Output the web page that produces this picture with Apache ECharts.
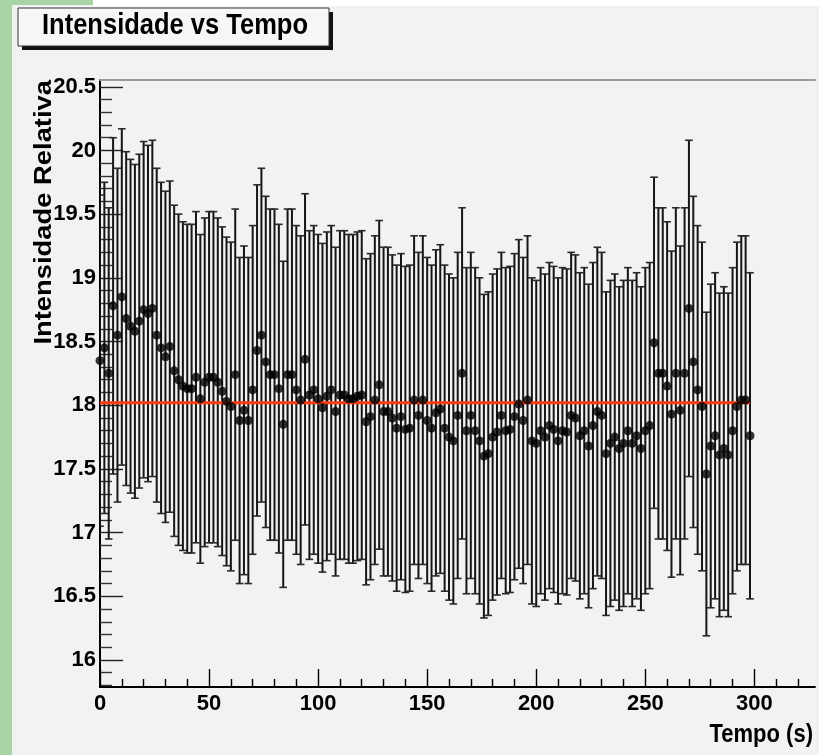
<!DOCTYPE html>
<html>
<head>
<meta charset="utf-8">
<title>Intensidade vs Tempo</title>
<script src="https://cdn.jsdelivr.net/npm/echarts@6/dist/echarts.min.js"></script>
<style>
  html, body { margin: 0; padding: 0; background: #f2f2f2; }
  #chart { width: 819px; height: 755px; }
</style>
</head>
<body>
<div id="chart"></div>
<script>
// Sampling times (s)
const times = [
  0, 2, 4, 6, 8, 10, 12, 14, 16, 18, 20, 22, 24, 26, 28, 30, 32, 34, 36, 38,
  40, 42, 44, 46, 48, 50, 52, 54, 56, 58, 60, 62, 64, 66, 68, 70, 72, 74, 76, 78,
  80, 82, 84, 86, 88, 90, 92, 94, 96, 98, 100, 102, 104, 106, 108, 110, 112, 114, 116, 118,
  120, 122, 124, 126, 128, 130, 132, 134, 136, 138, 140, 142, 144, 146, 148, 150, 152, 154, 156, 158,
  160, 162, 164, 166, 168, 170, 172, 174, 176, 178, 180, 182, 184, 186, 188, 190, 192, 194, 196, 198,
  200, 202, 204, 206, 208, 210, 212, 214, 216, 218, 220, 222, 224, 226, 228, 230, 232, 234, 236, 238,
  240, 242, 244, 246, 248, 250, 252, 254, 256, 258, 260, 262, 264, 266, 268, 270, 272, 274, 276, 278,
  280, 282, 284, 286, 288, 290, 292, 294, 296, 298
];

// Relative intensity measured at each time
const intensity = [
  18.35, 18.45, 18.25, 18.78, 18.55, 18.85, 18.68, 18.62, 18.58, 18.66,
  18.75, 18.72, 18.76, 18.55, 18.45, 18.38, 18.46, 18.27, 18.20, 18.15,
  18.13, 18.13, 18.22, 18.05, 18.18, 18.22, 18.22, 18.18, 18.11, 18.03,
  17.99, 18.24, 17.88, 17.96, 17.88, 18.12, 18.43, 18.55, 18.34, 18.24,
  18.24, 18.13, 17.85, 18.24, 18.24, 18.12, 18.04, 18.36, 18.08, 18.12,
  18.05, 17.98, 18.07, 18.12, 17.95, 18.08, 18.08, 18.05, 18.05, 18.07,
  18.08, 17.87, 17.91, 18.04, 18.16, 17.95, 17.95, 17.90, 17.82, 17.91,
  17.81, 17.82, 18.04, 17.92, 18.04, 17.88, 17.82, 17.94, 17.97, 17.82,
  17.75, 17.72, 17.92, 18.25, 17.80, 17.92, 17.80, 17.72, 17.60, 17.62,
  17.75, 17.79, 17.92, 17.80, 17.81, 17.91, 18.01, 17.88, 18.04, 17.72,
  17.70, 17.80, 17.75, 17.84, 17.81, 17.72, 17.80, 17.79, 17.92, 17.90,
  17.76, 17.80, 17.68, 17.84, 17.95, 17.92, 17.62, 17.70, 17.75, 17.66,
  17.70, 17.80, 17.70, 17.76, 17.66, 17.80, 17.84, 18.49, 18.25, 18.25,
  18.15, 17.93, 18.25, 17.96, 18.25, 18.76, 18.34, 18.12, 17.99, 17.46,
  17.68, 17.76, 17.61, 17.66, 17.61, 17.80, 17.99, 18.04, 18.04, 17.76
];

// Uncertainty of each measurement
const intensityErr = [
  1.30, 1.30, 1.30, 1.32, 1.31, 1.32, 1.31, 1.31, 1.31, 1.31,
  1.32, 1.32, 1.32, 1.31, 1.30, 1.30, 1.30, 1.30, 1.30, 1.29,
  1.29, 1.29, 1.30, 1.29, 1.29, 1.30, 1.30, 1.29, 1.29, 1.29,
  1.29, 1.30, 1.28, 1.29, 1.28, 1.29, 1.30, 1.31, 1.30, 1.30,
  1.30, 1.29, 1.28, 1.30, 1.30, 1.29, 1.29, 1.30, 1.29, 1.29,
  1.29, 1.29, 1.29, 1.29, 1.29, 1.29, 1.29, 1.29, 1.29, 1.29,
  1.29, 1.28, 1.28, 1.29, 1.29, 1.29, 1.29, 1.28, 1.28, 1.28,
  1.28, 1.28, 1.29, 1.28, 1.29, 1.28, 1.28, 1.28, 1.29, 1.28,
  1.28, 1.28, 1.28, 1.30, 1.28, 1.28, 1.28, 1.28, 1.27, 1.27,
  1.28, 1.28, 1.28, 1.28, 1.28, 1.28, 1.29, 1.28, 1.29, 1.28,
  1.28, 1.28, 1.28, 1.28, 1.28, 1.28, 1.28, 1.28, 1.28, 1.28,
  1.28, 1.28, 1.27, 1.28, 1.29, 1.28, 1.27, 1.28, 1.28, 1.27,
  1.28, 1.28, 1.28, 1.28, 1.27, 1.28, 1.28, 1.30, 1.30, 1.30,
  1.29, 1.28, 1.30, 1.29, 1.30, 1.32, 1.30, 1.29, 1.29, 1.27,
  1.27, 1.28, 1.27, 1.27, 1.27, 1.28, 1.29, 1.29, 1.29, 1.28
];

// Constant fitted to the series
const fitLevel = 18.02;

// Axis ranges and tick positions
const xRange = [0, 327.8];
const yRange = [15.788, 20.553];
const xMajorTicks = [0, 50, 100, 150, 200, 250, 300];
const xMinorTicks = [10, 20, 30, 40, 60, 70, 80, 90, 110, 120, 130, 140, 160, 170, 180, 190,
  210, 220, 230, 240, 260, 270, 280, 290, 310, 320];
const yMajorTicks = [16, 16.5, 17, 17.5, 18, 18.5, 19, 19.5, 20, 20.5];
const yMinorTicks = [15.8, 15.9, 16.1, 16.2, 16.3, 16.4, 16.6, 16.7, 16.8, 16.9,
  17.1, 17.2, 17.3, 17.4, 17.6, 17.7, 17.8, 17.9, 18.1, 18.2, 18.3, 18.4,
  18.6, 18.7, 18.8, 18.9, 19.1, 19.2, 19.3, 19.4, 19.6, 19.7, 19.8, 19.9,
  20.1, 20.2, 20.3, 20.4];

const titleText = 'Intensidade vs Tempo';
const xTitle = 'Tempo (s)';
const yTitle = 'Intensidade Relativa';

const textFont = "'Liberation Sans', Arial, sans-serif";

const errData = times.map((t, i) => [t, intensity[i], intensityErr[i]]);
const pointData = times.map((t, i) => [t, intensity[i]]);

const chart = echarts.init(document.getElementById('chart'), null, { renderer: 'canvas' });

const hidden = { show: false };

chart.setOption({
  animation: false,
  backgroundColor: '#f2f2f2',
  grid: { left: 100, top: 80, width: 715, height: 607, outerBoundsMode: 'none' },
  xAxis: [
    {
      type: 'value', position: 'bottom', min: xRange[0], max: xRange[1],
      axisLine: { show: true, lineStyle: { color: '#000', width: 1.8 } },
      axisTick: { show: true, inside: true, length: 18, customValues: xMajorTicks,
        lineStyle: { color: '#000', width: 1.4 } },
      axisLabel: { show: true, customValues: xMajorTicks, margin: 6, color: '#000',
        fontFamily: textFont, fontWeight: 'bold', fontSize: 22 },
      splitLine: hidden
    },
    {
      type: 'value', position: 'bottom', min: xRange[0], max: xRange[1],
      axisLine: hidden,
      axisTick: { show: true, inside: true, length: 8, customValues: xMinorTicks,
        lineStyle: { color: '#000', width: 1.4 } },
      axisLabel: hidden, splitLine: hidden
    },
    {
      type: 'value', position: 'top', min: xRange[0], max: xRange[1],
      axisLine: { show: true, lineStyle: { color: '#9a9a9a', width: 2 } },
      axisTick: hidden, axisLabel: hidden, splitLine: hidden
    }
  ],
  yAxis: [
    {
      type: 'value', position: 'left', min: yRange[0], max: yRange[1],
      axisLine: { show: true, lineStyle: { color: '#555', width: 1.8 } },
      axisTick: { show: true, inside: true, length: 23, customValues: yMajorTicks,
        lineStyle: { color: '#222', width: 1.4 } },
      axisLabel: { show: true, customValues: yMajorTicks, margin: 4, color: '#000',
        fontFamily: textFont, fontWeight: 'bold', fontSize: 22,
        formatter: v => String(v) },
      splitLine: hidden
    },
    {
      type: 'value', position: 'left', min: yRange[0], max: yRange[1],
      axisLine: hidden,
      axisTick: { show: true, inside: true, length: 12, customValues: yMinorTicks,
        lineStyle: { color: '#333', width: 1.4 } },
      axisLabel: hidden, splitLine: hidden
    },
    {
      type: 'value', position: 'right', min: yRange[0], max: yRange[1],
      axisLine: { show: true, lineStyle: { color: '#000', width: 2 } },
      axisTick: hidden, axisLabel: hidden, splitLine: hidden
    }
  ],
  series: [
    {
      // vertical error bars with end caps
      type: 'custom',
      xAxisIndex: 0, yAxisIndex: 0,
      data: errData,
      encode: { x: 0, y: 1 },
      clip: true,
      z: 2, silent: true,
      renderItem: function (params, api) {
        const x = api.value(0), v = api.value(1), e = api.value(2);
        const top = api.coord([x, v + e]);
        const bot = api.coord([x, v - e]);
        const hw = 3.8;
        const bar = { stroke: '#151515', lineWidth: 2 };
        const cap = { stroke: '#2a2a2a', lineWidth: 1.6 };
        return {
          type: 'group',
          children: [
            { type: 'line', shape: { x1: top[0], y1: top[1], x2: bot[0], y2: bot[1] }, style: bar },
            { type: 'line', shape: { x1: top[0] - hw, y1: top[1], x2: top[0] + hw, y2: top[1] }, style: cap },
            { type: 'line', shape: { x1: bot[0] - hw, y1: bot[1], x2: bot[0] + hw, y2: bot[1] }, style: cap }
          ]
        };
      }
    },
    {
      // fitted constant
      type: 'line',
      xAxisIndex: 0, yAxisIndex: 0,
      data: [[times[0], fitLevel], [times[times.length - 1], fitLevel]],
      showSymbol: false, symbol: 'none',
      lineStyle: { color: '#ff3a10', width: 3 },
      z: 3, silent: true
    },
    {
      type: 'scatter',
      xAxisIndex: 0, yAxisIndex: 0,
      data: pointData,
      symbol: 'circle', symbolSize: 9,
      itemStyle: { color: '#000' },
      z: 4, silent: true
    }
  ],
  graphic: [
    { type: 'rect', shape: { x: 93, y: 0, width: 726, height: 6 }, style: { fill: '#ffffff' }, silent: true },
    { type: 'rect', shape: { x: 0, y: 0, width: 12, height: 755 }, style: { fill: '#a8d4a6' }, silent: true },
    { type: 'rect', shape: { x: 0, y: 0, width: 93, height: 5 }, style: { fill: '#a8d4a6' }, silent: true },
    // title box with drop shadow
    { type: 'rect', shape: { x: 22, y: 12, width: 311, height: 38 }, style: { fill: '#111' }, silent: true },
    { type: 'rect', shape: { x: 18, y: 8, width: 311, height: 38 },
      style: { fill: '#f6f6f6', stroke: '#333', lineWidth: 1 }, silent: true },
    { type: 'text', x: 175, y: 26, scaleY: 1.15, silent: true,
      style: { text: titleText, fill: '#000', font: 'bold 25.5px ' + textFont,
        align: 'center', verticalAlign: 'middle' } },
    // axis titles
    { type: 'text', x: 813, y: 735, scaleY: 1.16, silent: true,
      style: { text: xTitle, fill: '#000', font: 'bold 22px ' + textFont,
        align: 'right', verticalAlign: 'middle' } },
    { type: 'text', x: 44, y: 80, rotation: Math.PI / 2, scaleX: 1.14, silent: true,
      style: { text: yTitle, fill: '#000', font: 'bold 24px ' + textFont,
        align: 'right', verticalAlign: 'middle' } }
  ]
});
</script>
</body>
</html>
